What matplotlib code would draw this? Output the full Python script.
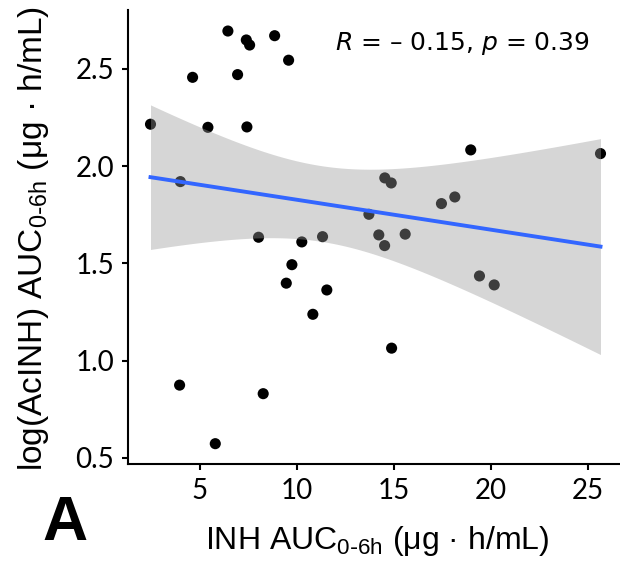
import numpy as np
import matplotlib
matplotlib.use("Agg")
import matplotlib.pyplot as plt

# INH AUC (x) vs log(AcINH) AUC (y)
inh_auc = [6.46, 7.41, 7.58, 8.87, 9.59, 4.64, 6.96, 2.47, 5.43, 7.44,
           4.01, 8.04, 10.27, 11.34, 13.73, 14.24, 9.76, 9.47, 11.56, 10.84,
           3.97, 8.28, 5.81, 18.98, 25.67, 14.55, 14.88, 18.16, 17.47, 15.60,
           14.54, 19.43, 20.19, 14.90]
acinh_log_auc = [2.694, 2.648, 2.622, 2.670, 2.544, 2.456, 2.470, 2.215, 2.199, 2.201,
                 1.920, 1.634, 1.610, 1.637, 1.752, 1.646, 1.493, 1.398, 1.363, 1.238,
                 0.874, 0.830, 0.573, 2.083, 2.064, 1.939, 1.913, 1.841, 1.807, 1.650,
                 1.591, 1.435, 1.389, 1.064]
x_ticks = [5, 10, 15, 20, 25]
y_ticks = [0.5, 1.0, 1.5, 2.0, 2.5]
stat_label = "$R$ = \u2013 0.15, $p$ = 0.39"

x = np.array(inh_auc)
y = np.array(acinh_log_auc)

# linear fit with 95% confidence band (like geom_smooth(method="lm"))
n = len(x)
slope, intercept = np.polyfit(x, y, 1)
xs = np.linspace(x.min(), x.max(), 100)
ys = intercept + slope * xs
resid = y - (intercept + slope * x)
s = np.sqrt(np.sum(resid ** 2) / (n - 2))
sxx = np.sum((x - x.mean()) ** 2)
se = s * np.sqrt(1 / n + (xs - x.mean()) ** 2 / sxx)
t_crit = 2.0369  # t(0.975, df=32)

fig = plt.figure(figsize=(6.2, 5.64), dpi=100)
ax = fig.add_axes([128 / 620, 1 - 464.3 / 564, 495 / 620, 453.9 / 564])

ax.scatter(x, y, s=64, color="black", edgecolors="none", zorder=1)
ax.fill_between(xs, ys - t_crit * se, ys + t_crit * se, color="#999999", alpha=0.4,
                linewidth=0, zorder=2)
ax.plot(xs, ys, color="#3366FF", lw=2.8, zorder=3)

ax.set_xlim(1.31, 26.83)
ax.set_ylim(0.467, 2.80)
ax.set_xticks(x_ticks)
ax.set_yticks(y_ticks)
ax.set_yticklabels([f"{v:.1f}" for v in y_ticks])

for side in ["top", "right"]:
    ax.spines[side].set_visible(False)
for side in ["left", "bottom"]:
    ax.spines[side].set_linewidth(1.5)
ax.tick_params(length=4, width=1.5, pad=6, labelsize=20)
for lab in ax.get_xticklabels() + ax.get_yticklabels():
    lab.set_fontfamily("Lato")

ax.set_xlabel("INH AUC$_{\\mathregular{0\\text{-}6h}}$ (\u03bcg \u00b7 h/mL)",
              fontsize=23, family="Liberation Sans")
ax.set_ylabel("log(AcINH) AUC$_{\\mathregular{0\\text{-}6h}}$ (\u03bcg \u00b7 h/mL)",
              fontsize=24, family="Liberation Sans")
ax.xaxis.set_label_coords(0.504, -0.1315)
ax.yaxis.set_label_coords(-0.156, 0.497)

ax.text(0.418, 0.928, stat_label, transform=ax.transAxes, fontsize=18,
        family="DejaVu Sans", va="center", ha="left")

fig.text(64.5 / 620, 1 - 523 / 564, "A", fontsize=45, fontweight="bold",
         family="Liberation Sans", ha="center", va="center")

plt.savefig("out.png", dpi=100)
